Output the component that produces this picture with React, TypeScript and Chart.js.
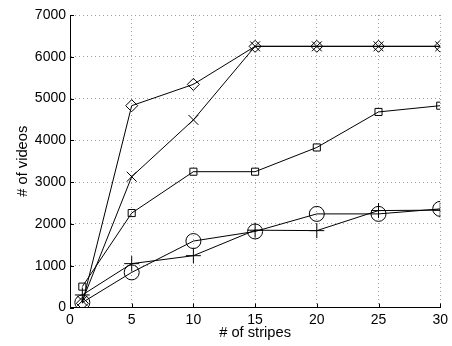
import React, { useEffect, useRef } from "react";
import { Chart, registerables } from "chart.js";

Chart.register(...registerables);

const xValues = [1, 5, 10, 15, 20, 25, 30];
const diamondSeries = [100, 4830, 5340, 6250, 6250, 6250, 6250];
const crossSeries = [160, 3130, 4490, 6250, 6250, 6250, 6250];
const squareSeries = [500, 2260, 3250, 3250, 3830, 4680, 4830];
const circleSeries = [120, 840, 1590, 1820, 2240, 2240, 2360];
const plusSeries = [300, 1050, 1240, 1850, 1840, 2320, 2330];

const xTicks = [0, 5, 10, 15, 20, 25, 30];
const yTicks = [0, 1000, 2000, 3000, 4000, 5000, 6000, 7000];

const FONT = "'Liberation Sans', Arial, Helvetica, sans-serif";

const inwardTicks = {
  id: "inwardTicks",
  afterDraw(chart: any) {
    const { ctx, chartArea, scales } = chart;
    ctx.save();
    ctx.strokeStyle = "#000";
    ctx.lineWidth = 1;
    ctx.beginPath();
    yTicks.forEach((v) => {
      const y = Math.round(scales.y.getPixelForValue(v)) + 0.5;
      ctx.moveTo(chartArea.left, y);
      ctx.lineTo(chartArea.left + 4, y);
    });
    xTicks.forEach((v) => {
      const x = Math.round(scales.x.getPixelForValue(v)) + 0.5;
      ctx.moveTo(x, chartArea.bottom);
      ctx.lineTo(x, chartArea.bottom - 4);
    });
    ctx.stroke();
    ctx.restore();
  },
};

function mk(values: number[], style: string, radius: number) {
  return {
    data: values.map((v, i) => ({ x: xValues[i], y: v })),
    borderColor: "#000",
    borderWidth: 1,
    pointStyle: style,
    pointRadius: radius,
    pointBorderColor: "#000",
    pointBackgroundColor: "rgba(0,0,0,0)",
    pointBorderWidth: 1,
    fill: false,
    tension: 0,
  };
}

export default function App() {
  const ref = useRef<HTMLCanvasElement>(null);
  useEffect(() => {
    if (!ref.current) return;
    const chart = new Chart(ref.current, {
      type: "line",
      data: {
        datasets: [
          mk(diamondSeries, "rectRot", 6),
          mk(crossSeries, "crossRot", 7),
          mk(squareSeries, "rect", 5),
          mk(circleSeries, "circle", 7.5),
          mk(plusSeries, "cross", 7.5),
        ] as any,
      },
      options: {
        animation: false,
        responsive: false,
        layout: { padding: { top: 15, right: 9, left: 0, bottom: 0 } },
        plugins: { legend: { display: false }, tooltip: { enabled: false } },
        scales: {
          x: {
            type: "linear",
            min: 0,
            max: 30,
            afterBuildTicks: (s: any) => {
              s.ticks = xTicks.map((v) => ({ value: v }));
            },
            afterFit: (s: any) => {
              s.height = 38.5;
            },
            ticks: {
              color: "#000",
              font: { family: FONT, size: 14 },
              padding: 4,
              maxRotation: 0,
              callback: (v: any) => String(v),
            },
            grid: { color: "#a0a0a0", drawTicks: false, lineWidth: 1 },
            border: { display: true, color: "#000", width: 1, dash: [1, 3] },
            title: {
              display: true,
              text: "# of stripes",
              color: "#000",
              font: { family: FONT, size: 14.7 },
              padding: { top: 0, bottom: 4 },
            },
          },
          y: {
            type: "linear",
            min: 0,
            max: 7000,
            afterBuildTicks: (s: any) => {
              s.ticks = yTicks.map((v) => ({ value: v }));
            },
            afterFit: (s: any) => {
              s.width = 70;
            },
            ticks: {
              color: "#000",
              font: { family: FONT, size: 14 },
              padding: 4,
              callback: (v: any) => String(v),
            },
            grid: { color: "#a0a0a0", drawTicks: false, lineWidth: 1 },
            border: { display: true, color: "#000", width: 1, dash: [1, 3] },
            title: {
              display: true,
              text: "# of videos",
              color: "#000",
              font: { family: FONT, size: 14.7 },
              padding: { top: 14, bottom: 0 },
            },
          },
        },
      },
      plugins: [inwardTicks],
    } as any);
    return () => chart.destroy();
  }, []);
  return (
    <div style={{ position: "fixed", left: 0, top: 0, width: 452, height: 346, background: "#fff" }}>
      <canvas ref={ref} width={452} height={346} />
    </div>
  );
}
